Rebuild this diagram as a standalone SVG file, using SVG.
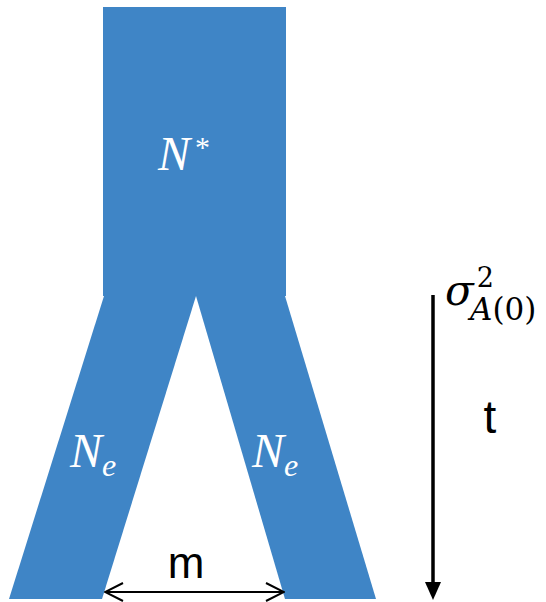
<svg xmlns="http://www.w3.org/2000/svg" width="546" height="602" viewBox="0 0 546 602">
<defs>
<style>
.pop{fill:#3F85C6;}
.lab{fill:#ffffff;font-family:"Liberation Serif","DejaVu Serif",serif;font-style:italic;}
.txt{fill:#000000;font-family:"Liberation Sans",Arial,sans-serif;}
.math{fill:#000000;font-family:"DejaVu Serif","Liberation Serif",serif;font-style:italic;}
.ln{stroke:#000;fill:none;}
</style>
<marker id="open" viewBox="0 0 20 20" refX="19" refY="10" markerWidth="20" markerHeight="20" markerUnits="userSpaceOnUse" orient="auto-start-reverse">
<path d="M1,1 L19,10 L1,19" fill="none" stroke="#000" stroke-width="2"/>
</marker>
<marker id="solid" viewBox="0 0 16 18" refX="8" refY="8" markerWidth="16" markerHeight="18" markerUnits="userSpaceOnUse" orient="0">
<path d="M0,0 L16,0 L8,18 Z" fill="#000"/>
</marker>
</defs>
<g id="ancestral">
<rect class="pop" x="103" y="7" width="183" height="289"/>
<text class="lab" x="158" y="170" font-size="48">N<tspan font-style="normal" font-size="30" dx="5" dy="-13">*</tspan></text>
</g>
<g id="left-pop">
<polygon class="pop" points="104,296 196,296 102,599 9,599"/>
<text class="lab" x="70" y="467" font-size="48">N<tspan font-size="32" dy="9">e</tspan></text>
</g>
<g id="right-pop">
<polygon class="pop" points="196,296 285,296 376,599 285,599"/>
<text class="lab" x="252" y="467" font-size="48">N<tspan font-size="32" dy="9">e</tspan></text>
</g>
<g id="connectors">
<line class="ln" x1="105" y1="592" x2="284" y2="592" stroke-width="2" marker-start="url(#open)" marker-end="url(#open)"/>
<line class="ln" x1="433" y1="295" x2="433" y2="590" stroke-width="3.5" marker-end="url(#solid)"/>
</g>
<g id="labels">
<text class="txt" x="186" y="578" font-size="44" text-anchor="middle">m</text>
<text class="txt" x="490" y="433" font-size="46" text-anchor="middle">t</text>
<text class="math" x="445" y="305" font-size="42">σ<tspan font-style="normal" font-size="27" dx="3" dy="-18">2</tspan><tspan x="470" dy="33" font-size="31">A</tspan><tspan font-style="normal" font-size="31">(0)</tspan></text>
</g>
</svg>
